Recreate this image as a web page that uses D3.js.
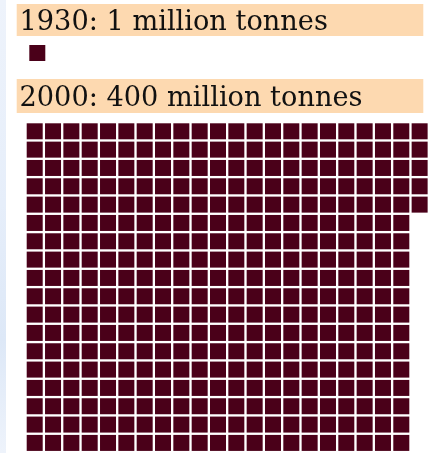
<!DOCTYPE html>
<html>
<head>
<meta charset="utf-8">
<script src="https://cdn.jsdelivr.net/npm/d3@7"></script>
<style>
  html, body { margin: 0; padding: 0; background: #fff; overflow: hidden; }
  svg { display: block; filter: blur(0.45px); }
</style>
</head>
<body>
<svg id="chart" width="430" height="453"></svg>
<script>
// ---- data ----
const years = ["1930", "2000"];
const labels = ["1930: 1 million tonnes", "2000: 400 million tonnes"];
const values = [1, 400];          // million tonnes, one square = 1 million tonnes
const unit = 1;

// ---- layout ----
const W = 430, H = 453;
const svg = d3.select("#chart");

// faint blue strip at the left edge (background)
const defs = svg.append("defs");
const grad = defs.append("linearGradient").attr("id", "bg").attr("x1", 0).attr("y1", 0).attr("x2", 0).attr("y2", 1);
grad.append("stop").attr("offset", "0%").attr("stop-color", "#eef3fb");
grad.append("stop").attr("offset", "45%").attr("stop-color", "#e6eefa");
grad.append("stop").attr("offset", "75%").attr("stop-color", "#dde8f7");
grad.append("stop").attr("offset", "100%").attr("stop-color", "#eef3fb");
svg.append("rect").attr("x", 0).attr("y", 0).attr("width", 6).attr("height", H).attr("fill", "url(#bg)");

const peach = "#fdd9b0";
const maroon = "#4a0019";

// label bands
const bandY = d3.scaleOrdinal().domain(years).range([4, 79]);
const bandH = d3.scaleOrdinal().domain(years).range([32, 34]);
const textY = d3.scaleOrdinal().domain(years).range([30, 106]);

years.forEach((yr, k) => {
  svg.append("rect")
    .attr("x", 16.7).attr("y", bandY(yr))
    .attr("width", 423.3 - 16.7).attr("height", bandH(yr))
    .attr("fill", peach);
  svg.append("text")
    .attr("x", 19.5).attr("y", textY(yr))
    .attr("font-family", "'DejaVu Serif', serif")
    .attr("font-size", 27.2)
    .attr("fill", "#111")
    .text(labels[k]);
});

// 1930 square(s)
const n1930 = Math.round(values[0] / unit);
const xs = d3.scaleLinear().domain([0, 1]).range([29.3, 29.3 + 18.33]);
svg.append("g").selectAll("rect")
  .data(d3.range(n1930))
  .join("rect")
  .attr("x", d => xs(d))
  .attr("y", 45)
  .attr("width", 16).attr("height", 16)
  .attr("fill", maroon);

// 2000 squares: grid (first rows 22 wide, then 21 wide)
const n2000 = Math.round(values[1] / unit);
const wideRows = 5, wideCols = 22, narrowCols = 21;
const cells = d3.range(n2000).map(i => {
  if (i < wideRows * wideCols) return { row: Math.floor(i / wideCols), col: i % wideCols };
  const j = i - wideRows * wideCols;
  return { row: wideRows + Math.floor(j / narrowCols), col: j % narrowCols };
});
const pitch = 18.33;
const gx = d3.scaleLinear().domain([0, 1]).range([26.7, 26.7 + pitch]);
const gy = d3.scaleLinear().domain([0, 1]).range([123.3, 123.3 + pitch]);
svg.append("g").selectAll("rect")
  .data(cells)
  .join("rect")
  .attr("x", d => gx(d.col))
  .attr("y", d => gy(d.row))
  .attr("width", 16).attr("height", 16)
  .attr("fill", maroon);
</script>
</body>
</html>
